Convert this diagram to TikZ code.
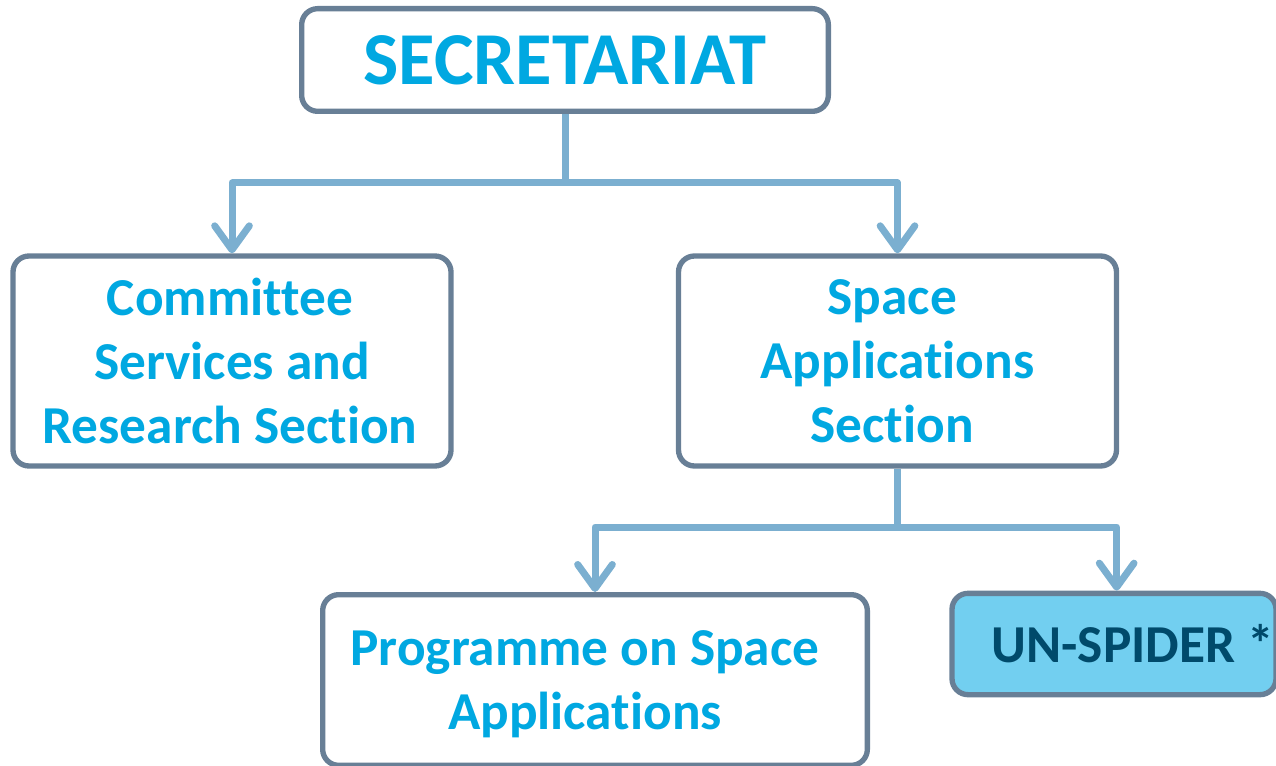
\documentclass[tikz,border=0pt]{standalone}
\usepackage{fontspec}
\setmainfont{Carlito}[Ligatures=NoCommon]
\usetikzlibrary{arrows.meta}
\definecolor{bordc}{HTML}{687F96}
\definecolor{txtc}{HTML}{00A8E1}
\definecolor{connc}{HTML}{7BAFD0}
\definecolor{spfill}{HTML}{72CFF0}
\definecolor{sptxt}{HTML}{004A6B}
\begin{document}
\begin{tikzpicture}[x=0.75pt,y=-0.75pt,
  box/.style={draw=bordc, line width=4pt, rounded corners=12pt, fill=white,
    text=txtc, font=\bfseries\fontsize{40}{48}\selectfont, align=center, inner sep=0pt},
  conn/.style={draw=connc, line width=5.25pt, line join=round,
    -{Straight Barb[length=18pt, width=26pt, round]}}]
\useasboundingbox (0,0) rectangle (1276,766);
\clip (0,0) rectangle (1276,766);
\node[box, minimum width=395pt, minimum height=77pt,
  font=\bfseries\fontsize{56}{60}\selectfont] (sec) at (565,60) {SECRETARIAT};
\node[box, minimum width=328.5pt, minimum height=157.5pt] (com) at (232,361)
  {Committee\hspace*{3pt}\\Services and\hspace*{3pt}\\Research Section\hspace*{3pt}};
\node[box, minimum width=328.5pt, minimum height=157.5pt] (sas) at (897.5,361)
  {Space\hspace*{8pt}\\Applications\hspace*{8pt}\\Section\hspace*{8pt}};
\node[box, minimum width=408.5pt, minimum height=128pt, text depth=0pt] (prog) at (595,680)
  {Programme on Space\hspace*{15pt}\\Applications\hspace*{15pt}};
\node[box, fill=spfill, text=sptxt, minimum width=243pt, minimum height=76pt] (un) at (1114,644)
  {\hspace*{28pt}UN-SPIDER *};
\coordinate (j1) at (565,183);
\coordinate (j2) at (897.5,527);
\draw[conn] (sec.south) -- (j1) -| (com.north);
\draw[conn] (j1) -| (sas.north);
\draw[conn] (sas.south) -- (j2) -| (prog.north);
\draw[conn] (j2) -| ([xshift=2pt]un.north);
\end{tikzpicture}
\end{document}
